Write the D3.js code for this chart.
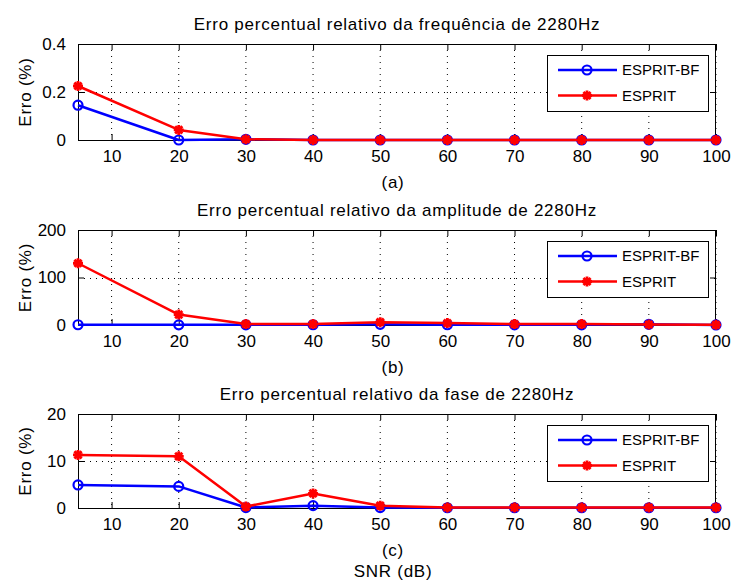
<!DOCTYPE html>
<html><head><meta charset="utf-8">
<script src="https://cdn.jsdelivr.net/npm/d3@7"></script>
<style>
html,body{margin:0;padding:0;background:#fff;}
text{font-family:"Liberation Sans",Arial,sans-serif;fill:#000;}
</style></head>
<body><svg id="c" width="732" height="583"></svg>
<script>
// ---- data ----
const snr = [5, 20, 30, 40, 50, 60, 70, 80, 90, 100];
const xTicks = [10, 20, 30, 40, 50, 60, 70, 80, 90, 100];
const seriesNames = ["ESPRIT-BF", "ESPRIT"];
const titles = [
  "Erro percentual relativo da frequência de 2280Hz",
  "Erro percentual relativo da amplitude de 2280Hz",
  "Erro percentual relativo da fase de 2280Hz"
];
const subLabels = ["(a)", "(b)", "(c)"];
const freqBF  = [0.145, 0.0, 0.003, 0.0, 0.0, 0.0, 0.0, 0.0, 0.0, 0.0];
const freqES  = [0.225, 0.042, 0.003, 0.0, 0.0, 0.0, 0.0, 0.0, 0.0, 0.0];
const ampBF   = [0.5, 0.3, 0.3, 0.5, 1.5, 0.5, 0.3, 0.3, 1.5, 0.1];
const ampES   = [130, 22, 2, 2, 6, 4, 2, 2, 1, 0.3];
const phaseBF = [4.9, 4.6, 0.1, 0.5, 0.1, 0.05, 0.05, 0.05, 0.05, 0.05];
const phaseES = [11.3, 11.0, 0.3, 3.1, 0.5, 0.1, 0.1, 0.1, 0.1, 0.1];
const yTicks1 = [0, 0.2, 0.4];
const yTicks2 = [0, 100, 200];
const yTicks3 = [0, 10, 20];
const yLabel = "Erro (%)";
const xLabel = "SNR (dB)";

// ---- layout ----
const svg = d3.select("#c");
const L = 78, R = 716;
const panels = [
  {top: 44,  bottom: 140, ticks: yTicks1, fmt: d3.format(".1~f"), bf: freqBF,  es: freqES,  title: titles[0], sub: subLabels[0]},
  {top: 230, bottom: 325, ticks: yTicks2, fmt: d3.format("d"),   bf: ampBF,   es: ampES,   title: titles[1], sub: subLabels[1]},
  {top: 414, bottom: 508, ticks: yTicks3, fmt: d3.format("d"),   bf: phaseBF, es: phaseES, title: titles[2], sub: subLabels[2]}
];
const colors = ["#0000ff", "#ff0000"];
const starPath = "M-5,0H5M0,-5V5M-3.6,-3.6L3.6,3.6M-3.6,3.6L3.6,-3.6";
const FS = 17;

const x = d3.scaleLinear().domain([5, 100]).range([L, R]);

function drawMarker(g, type, cx, cy) {
  if (type === 0) {
    g.append("circle").attr("cx", cx).attr("cy", cy).attr("r", 4.5)
      .attr("fill", "none").attr("stroke", colors[0]).attr("stroke-width", 2.2);
  } else {
    g.append("path").attr("d", starPath).attr("transform", `translate(${cx},${cy})`)
      .attr("fill", "none").attr("stroke", colors[1]).attr("stroke-width", 2.8);
  }
}

panels.forEach((p, pi) => {
  const y = d3.scaleLinear().domain([p.ticks[0], p.ticks[p.ticks.length - 1]]).range([p.bottom, p.top]);
  const g = svg.append("g");
  const H = p.bottom - p.top;

  // grid
  g.append("g").selectAll("line").data(xTicks).join("line")
    .attr("x1", d => x(d)).attr("x2", d => x(d)).attr("y1", p.top).attr("y2", p.bottom)
    .attr("stroke", "#000").attr("stroke-width", 1).attr("stroke-dasharray", "1,5");
  g.append("g").selectAll("line").data(p.ticks.slice(1, -1)).join("line")
    .attr("x1", L).attr("x2", R).attr("y1", d => Math.round(y(d)) + 0.5).attr("y2", d => Math.round(y(d)) + 0.5)
    .attr("stroke", "#000").attr("stroke-width", 1).attr("stroke-dasharray", "1,5");

  // axes with inward ticks
  const axB = d3.axisBottom(x).tickValues(xTicks).tickSize(-6).tickPadding(10).tickFormat(d3.format("d"));
  const axT = d3.axisTop(x).tickValues(xTicks).tickSize(-6).tickFormat("");
  const axL = d3.axisLeft(y).tickValues(p.ticks).tickSize(-6).tickPadding(12).tickFormat(p.fmt);
  const axR = d3.axisRight(y).tickValues(p.ticks).tickSize(-6).tickFormat("");
  [[axB, `translate(0,${p.bottom})`], [axT, `translate(0,${p.top})`], [axL, `translate(${L},0)`], [axR, `translate(${R},0)`]]
    .forEach(([ax, tr]) => {
      const a = g.append("g").attr("transform", tr).call(ax);
      a.select(".domain").remove();
      a.selectAll("line").attr("stroke", "#000");
      a.selectAll("text").attr("font-size", FS).attr("font-family", '"Liberation Sans",Arial,sans-serif').attr("fill", "#000");
    });

  // box
  g.append("rect").attr("x", L + 0.5).attr("y", p.top + 0.5).attr("width", R - L - 1).attr("height", H)
    .attr("fill", "none").attr("stroke", "#000").attr("stroke-width", 1);

  // lines
  const line = d3.line().x((d, i) => x(snr[i])).y(d => y(d));
  [p.bf, p.es].forEach((vals, si) => {
    g.append("path").datum(vals).attr("d", line).attr("fill", "none")
      .attr("stroke", colors[si]).attr("stroke-width", 2.5).attr("stroke-linejoin", "round");
    vals.forEach((v, i) => drawMarker(g, si, x(snr[i]), y(v)));
  });

  // legend
  const lx = 547, ly = p.top + 11, lw = 161, lh = 56;
  const lg = g.append("g");
  lg.append("rect").attr("x", lx + 0.5).attr("y", ly + 0.5).attr("width", lw).attr("height", lh)
    .attr("fill", "#fff").attr("stroke", "#000").attr("stroke-width", 1);
  seriesNames.forEach((n, si) => {
    const ry = ly + 15 + si * 25.5;
    lg.append("line").attr("x1", lx + 11).attr("x2", lx + 70).attr("y1", ry).attr("y2", ry)
      .attr("stroke", colors[si]).attr("stroke-width", 2.5);
    drawMarker(lg, si, lx + 40, ry);
    lg.append("text").attr("x", lx + 75).attr("y", ry).attr("dy", "0.36em")
      .attr("font-size", 15).text(n);
  });

  // title
  g.append("text").attr("x", (L + R) / 2).attr("y", p.top - 14).attr("text-anchor", "middle")
    .attr("font-size", FS).attr("letter-spacing", "0.75px").text(p.title);
  // y label
  g.append("text").attr("transform", `translate(31,${(p.top + p.bottom) / 2}) rotate(-90)`)
    .attr("text-anchor", "middle").attr("font-size", FS).attr("letter-spacing", "0.75px").text(yLabel);
  // sub label
  g.append("text").attr("x", (L + R) / 2 - 4).attr("y", p.bottom + 48).attr("text-anchor", "middle")
    .attr("font-size", FS).attr("letter-spacing", "0.75px").text(p.sub);
});

svg.append("text").attr("x", (L + R) / 2 - 4).attr("y", 577).attr("text-anchor", "middle")
  .attr("font-size", FS).attr("letter-spacing", "0.75px").text(xLabel);
</script></body></html>
